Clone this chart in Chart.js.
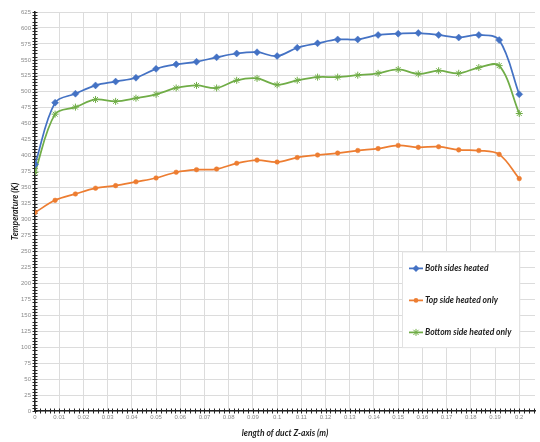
<!DOCTYPE html>
<html>
<head>
<meta charset="utf-8">
<script src="https://cdn.jsdelivr.net/npm/chart.js@4/dist/chart.umd.min.js"></script>
<style>
  html, body { margin: 0; padding: 0; background: #ffffff; }
  #wrap { width: 540px; height: 442px; position: relative; }
</style>
</head>
<body>
<div id="wrap"><canvas id="c" width="540" height="442"></canvas></div>
<script>
// Measurement stations along the duct (m)
const zPositions = [0, 0.0083, 0.0167, 0.025, 0.0333, 0.0417, 0.05, 0.0583, 0.0667, 0.075,
  0.0833, 0.0917, 0.1, 0.1083, 0.1167, 0.125, 0.1333, 0.1417, 0.15, 0.1583,
  0.1667, 0.175, 0.1833, 0.1917, 0.2];

// Temperatures (K) for each heating case
const bothSides = [386, 483, 497, 510, 516, 522, 536, 543, 547, 554,
  560, 562, 556, 569, 576, 582, 582, 589, 591, 592,
  589, 585, 589, 581, 496];
const topOnly = [311, 330, 340, 349, 353, 359, 365, 374, 378, 379,
  388, 393, 390, 397, 401, 404, 408, 411, 416, 413,
  414, 409, 408, 402, 364];
const bottomOnly = [374, 465, 476, 488, 485, 490, 496, 506, 510, 506,
  518, 521, 511, 518, 523, 523, 526, 529, 535, 528,
  533, 529, 538, 541, 466];

const seriesLabels = ['Both sides heated', 'Top side heated only', 'Bottom side heated only'];
const xTitle = 'length of duct Z-axis (m)';
const yTitle = 'Temperature (K)';

const BLUE = '#4472C4', ORANGE = '#ED7D31', GREEN = '#70AD47';
const TITLE_FONT = { family: 'Lato, "Liberation Sans", sans-serif', size: 8.5, weight: 'bold', style: 'italic' };

function pairs(ys) { return ys.map((y, i) => ({ x: zPositions[i], y })); }

function drawMarker(ctx, style, x, y, r, color) {
  ctx.save();
  ctx.fillStyle = color;
  ctx.strokeStyle = color;
  ctx.lineWidth = 1;
  ctx.beginPath();
  if (style === 'rectRot') {
    ctx.moveTo(x, y - r); ctx.lineTo(x + r, y); ctx.lineTo(x, y + r); ctx.lineTo(x - r, y);
    ctx.closePath(); ctx.fill();
  } else if (style === 'circle') {
    ctx.arc(x, y, r, 0, Math.PI * 2); ctx.fill();
  } else {
    const d = r * 0.75;
    ctx.moveTo(x - d, y - d); ctx.lineTo(x + d, y + d);
    ctx.moveTo(x + d, y - d); ctx.lineTo(x - d, y + d);
    ctx.moveTo(x, y - r); ctx.lineTo(x, y + r);
    ctx.stroke();
  }
  ctx.restore();
}

// Minor tick marks on both axes, Excel style
const minorTicks = {
  id: 'minorTicks',
  beforeDatasetsDraw(chart) {
    const { ctx, chartArea, scales } = chart;
    const ys = scales.y, xs = scales.x;
    ctx.save();
    ctx.strokeStyle = '#222';
    ctx.lineWidth = 1;
    ctx.beginPath();
    for (let v = 0; v <= 625; v += 5) {
      const py = Math.round(ys.getPixelForValue(v)) + 0.5;
      ctx.moveTo(chartArea.left - 2.5, py); ctx.lineTo(chartArea.left + 2.5, py);
    }
    for (let k = 0; k <= 103; k++) {
      const px = Math.round(xs.getPixelForValue(k * 0.002)) + 0.5;
      if (px > chartArea.right) break;
      ctx.moveTo(px, chartArea.bottom - 2.5); ctx.lineTo(px, chartArea.bottom + 2.5);
    }
    ctx.stroke();
    ctx.restore();
  }
};

// Legend box placed inside the plot area
const insideLegend = {
  id: 'insideLegend',
  afterDraw(chart) {
    const { ctx, scales } = chart;
    const xs = scales.x, ys = scales.y;
    const left = 402, right = xs.getPixelForValue(0.2);
    const top = ys.getPixelForValue(250) + 0.5, bottom = ys.getPixelForValue(100) + 0.5;
    ctx.save();
    ctx.fillStyle = '#ffffff';
    ctx.fillRect(left, top, right - left, bottom - top);
    ctx.strokeStyle = '#e2e2e2';
    ctx.lineWidth = 1;
    ctx.strokeRect(left + 0.5, top, right - left, bottom - top);
    ctx.font = `italic bold ${TITLE_FONT.size}px ${TITLE_FONT.family}`;
    ctx.textBaseline = 'middle';
    ctx.fillStyle = '#1c1c1c';
    chart.data.datasets.forEach((ds, i) => {
      const cy = top + 16.5 + i * 32;
      ctx.strokeStyle = ds.borderColor;
      ctx.lineWidth = 1.75;
      ctx.beginPath(); ctx.moveTo(409, cy); ctx.lineTo(423, cy); ctx.stroke();
      drawMarker(ctx, ds.pointStyle, 416, cy, ds.pointRadius, ds.pointBackgroundColor);
      ctx.fillStyle = '#1c1c1c';
      ctx.fillText(ds.label, 425, cy);
    });
    ctx.restore();
  }
};

const common = { borderWidth: 1.75, tension: 0.35, fill: false };

new Chart(document.getElementById('c'), {
  type: 'line',
  data: {
    datasets: [
      { ...common, label: seriesLabels[0], data: pairs(bothSides), borderColor: BLUE,
        pointStyle: 'rectRot', pointRadius: 3.5, pointBackgroundColor: BLUE, pointBorderColor: BLUE, pointBorderWidth: 0.5 },
      { ...common, label: seriesLabels[1], data: pairs(topOnly), borderColor: ORANGE,
        pointStyle: 'circle', pointRadius: 2.3, pointBackgroundColor: ORANGE, pointBorderColor: ORANGE, pointBorderWidth: 0.5 },
      { ...common, label: seriesLabels[2], data: pairs(bottomOnly), borderColor: GREEN,
        pointStyle: 'star', pointRadius: 3.5, pointBackgroundColor: GREEN, pointBorderColor: GREEN, pointBorderWidth: 1 }
    ]
  },
  options: {
    responsive: false,
    animation: false,
    layout: { padding: { top: 12, right: 0, bottom: 0, left: 0 } },
    plugins: { legend: { display: false }, tooltip: { enabled: false } },
    scales: {
      x: {
        type: 'linear', min: 0, max: 0.2065,
        afterFit(s) { s.height = 31; },
        grid: { color: '#dcdcdc', lineWidth: 1, drawTicks: false },
        border: { color: '#222', width: 1.5 },
        ticks: {
          stepSize: 0.01, includeBounds: false, autoSkip: false, maxRotation: 0, padding: 3,
          color: '#8a8a8a', font: { size: 6, family: '"Liberation Sans", sans-serif' },
          callback: v => (v > 0.2001 ? '' : String(parseFloat(v.toFixed(2))))
        },
        title: { display: true, text: xTitle, color: '#1c1c1c', font: TITLE_FONT, padding: { top: 0, bottom: 4 } }
      },
      y: {
        type: 'linear', min: 0, max: 625,
        afterFit(s) { s.width = 35; },
        grid: { color: '#dcdcdc', lineWidth: 1, drawTicks: false },
        border: { color: '#222', width: 1.5 },
        ticks: {
          stepSize: 25, padding: 4, color: '#8a8a8a',
          font: { size: 6, family: '"Liberation Sans", sans-serif' }
        },
        title: { display: true, text: yTitle, color: '#1c1c1c', font: TITLE_FONT, padding: { top: 10, bottom: 0 } }
      }
    }
  },
  plugins: [minorTicks, insideLegend]
});
</script>
</body>
</html>
